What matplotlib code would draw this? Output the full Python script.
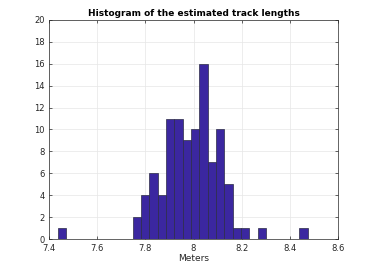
import numpy as np
import matplotlib.pyplot as plt

# Histogram bins: 30 bins starting at 7.436 m
bin_start = 7.436
bin_width = 0.03457
counts = [1, 0, 0, 0, 0, 0, 0, 0, 0, 2,
          4, 6, 4, 11, 11, 9, 10, 16, 7, 10,
          5, 1, 1, 0, 1, 0, 0, 0, 0, 1]
xticks = [7.4, 7.6, 7.8, 8.0, 8.2, 8.4, 8.6]
xtick_labels = ["7.4", "7.6", "7.8", "8", "8.2", "8.4", "8.6"]
yticks = list(range(0, 21, 2))

edges = bin_start + bin_width * np.arange(len(counts) + 1)

fig = plt.figure(figsize=(3.74, 2.69), dpi=100)
ax = fig.add_axes([0.131, 0.1115, 0.773, 0.8145])

ax.bar(edges[:-1], counts, width=bin_width, align='edge',
       color='#3b27a0', edgecolor='#2b2b45', linewidth=0.5, zorder=3)

ax.set_xlim(7.4, 8.6)
ax.set_ylim(0, 20)
ax.set_xticks(xticks)
ax.set_xticklabels(xtick_labels)
ax.set_yticks(yticks)
ax.grid(True, color='#e6e6e6', linewidth=0.5, zorder=0)
ax.tick_params(direction='in', top=True, right=True, labelsize=6,
               length=2.5, width=0.5, colors='#262626', pad=2)
ax.tick_params(axis='x', pad=3.5)
ax.tick_params(axis='y', pad=3)
for s in ax.spines.values():
    s.set_linewidth(0.5)
    s.set_color('#262626')

ax.set_xlabel("Meters", fontsize=6.5, color='#262626', labelpad=1)
ax.set_title("Histogram of the estimated track lengths", fontsize=6.5,
             fontweight='bold', pad=3)

fig.savefig("out.png", dpi=100)
